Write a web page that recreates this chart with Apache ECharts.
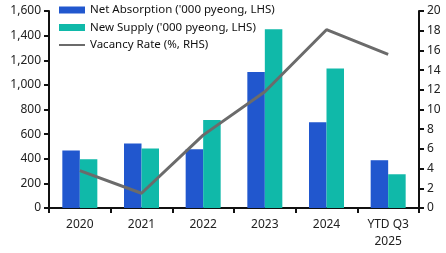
<!DOCTYPE html>
<html><head><meta charset="utf-8">
<script src="https://cdn.jsdelivr.net/npm/echarts@6/dist/echarts.min.js"></script>
<style>html,body{margin:0;padding:0;background:#fff}#c{width:446px;height:253px}</style>
</head><body><div id="c"></div>
<script>
const categories = ['2020', '2021', '2022', '2023', '2024', 'YTD Q3\n2025'];
const netAbsorption = [468, 524, 477, 1104, 697, 388];
const newSupply = [396, 483, 714, 1451, 1134, 274];
const vacancyRate = [3.8, 1.5, 7.4, 11.8, 18.1, 15.6];
const leftTicks = { min: 0, max: 1600, interval: 200 };
const rightTicks = { min: 0, max: 20, interval: 2 };

const font = 'Noto Sans';
const chart = echarts.init(document.getElementById('c'), null, { renderer: 'canvas' });
chart.setOption({
  animation: false,
  textStyle: { fontFamily: font },
  grid: { left: 49, right: 27, top: 11, bottom: 45 },
  legend: {
    orient: 'vertical', left: 58, top: 3, padding: 0, itemWidth: 26, itemHeight: 7, itemGap: 3.5,
    textStyle: { fontFamily: font, fontSize: 11.5, color: '#111', lineHeight: 14 },
    data: [
      { name: "Net Absorption ('000 pyeong, LHS)", icon: 'rect' },
      { name: "New Supply ('000 pyeong, LHS)", icon: 'rect' },
      { name: 'Vacancy Rate (%, RHS)', itemStyle: { opacity: 0 } }
    ]
  },
  xAxis: {
    type: 'category', data: categories,
    axisLine: { lineStyle: { color: '#111', width: 2 } },
    axisTick: { show: true, length: 5, lineStyle: { color: '#111', width: 2 } },
    axisLabel: { color: '#222', fontSize: 12, fontFamily: font, margin: 8, lineHeight: 17 }
  },
  yAxis: [
    {
      type: 'value', min: leftTicks.min, max: leftTicks.max, interval: leftTicks.interval,
      axisLine: { show: true, lineStyle: { color: '#111', width: 2 } },
      axisTick: { show: true, length: 5, lineStyle: { color: '#111', width: 2 } },
      splitLine: { show: false },
      axisLabel: { color: '#222', fontSize: 12, fontFamily: font, margin: 8,
        formatter: v => v.toLocaleString('en-US') }
    },
    {
      type: 'value', min: rightTicks.min, max: rightTicks.max, interval: rightTicks.interval,
      position: 'right',
      axisLine: { show: true, lineStyle: { color: '#111', width: 2 } },
      axisTick: { show: true, length: 5, lineStyle: { color: '#111', width: 2 } },
      splitLine: { show: false },
      axisLabel: { color: '#222', fontSize: 12, fontFamily: font, margin: 8 }
    }
  ],
  series: [
    { name: "Net Absorption ('000 pyeong, LHS)", type: 'bar', data: netAbsorption,
      itemStyle: { color: '#2157ce' }, barWidth: 17.5, barGap: '0%' },
    { name: "New Supply ('000 pyeong, LHS)", type: 'bar', data: newSupply,
      itemStyle: { color: '#10b9a9' }, barWidth: 17.5, barGap: '0%' },
    { name: 'Vacancy Rate (%, RHS)', type: 'line', yAxisIndex: 1, data: vacancyRate,
      symbol: 'none', z: 5, lineStyle: { color: '#6b6b6b', width: 3 }, itemStyle: { color: '#6b6b6b' } }
  ]
});
</script></body></html>
